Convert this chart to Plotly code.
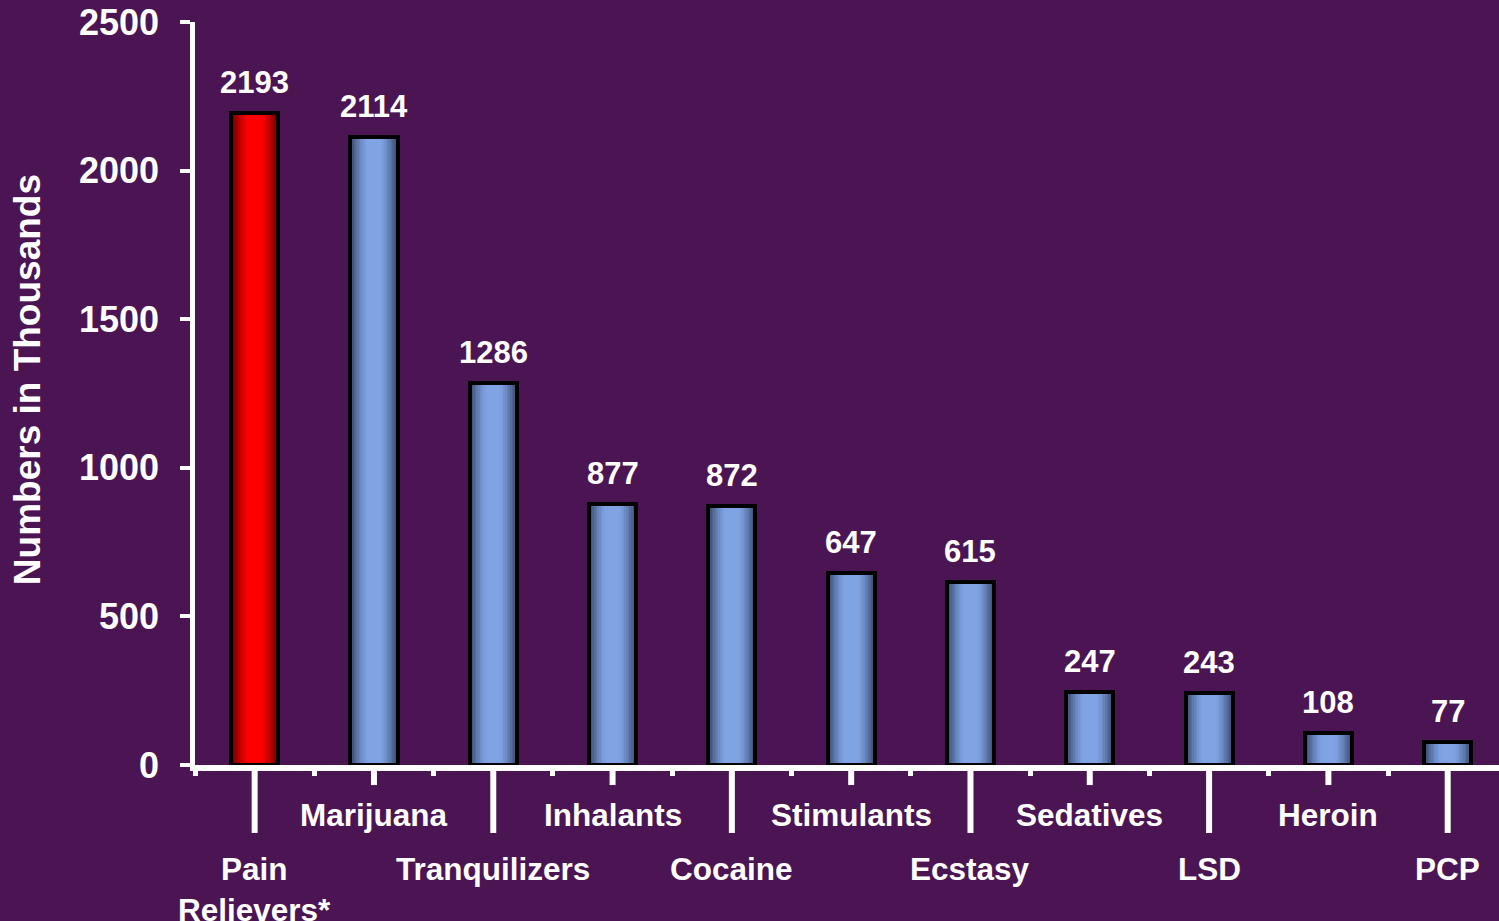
import plotly.graph_objects as go

# Lifetime initiates by substance (numbers in thousands)
categories = ["Pain<br>Relievers*", "Marijuana", "Tranquilizers", "Inhalants", "Cocaine",
              "Stimulants", "Ecstasy", "Sedatives", "LSD", "Heroin", "PCP"]
values = [2193, 2114, 1286, 877, 872, 647, 615, 247, 243, 108, 77]
y_ticks = [0, 500, 1000, 1500, 2000, 2500]

BG = "#4B1554"
FONT = "Liberation Sans, Arial, sans-serif"
BAR_W = 0.395
N_LAYERS = 14

x_pos = list(range(len(categories)))


def mix(c1, c2, t):
    return "rgb({},{},{})".format(*[round(a + (b - a) * t) for a, b in zip(c1, c2)])


blue_light, blue_dark = (128, 163, 228), (58, 75, 112)
red_light, red_dark = (255, 0, 0), (100, 0, 0)

fig = go.Figure()

# Shaded bars: stacked overlay layers, widest/darkest first, narrowest/lightest last
for k in range(N_LAYERS):
    frac = 1 - k / N_LAYERS
    t = max(0.0, min(1.0, (frac - 0.3) / 0.7)) ** 1.4
    colors = [mix(red_light, red_dark, t) if i == 0 else mix(blue_light, blue_dark, t)
              for i in x_pos]
    fig.add_trace(go.Bar(x=x_pos, y=values, width=BAR_W * frac,
                         marker=dict(color=colors, line=dict(width=0)),
                         hoverinfo="skip", showlegend=False))

# Black outline
fig.add_trace(go.Bar(x=x_pos, y=values, width=BAR_W,
                     marker=dict(color="rgba(0,0,0,0)", line=dict(color="black", width=4)),
                     showlegend=False, hovertemplate="%{y}<extra></extra>"))

# Value labels
for i, v in enumerate(values):
    fig.add_annotation(x=i, y=v, text=str(v), showarrow=False, yanchor="bottom", yshift=11,
                       font=dict(family=FONT, size=31, color="white", weight="bold"))

# Category labels in two staggered rows with leader lines
for i, name in enumerate(categories):
    upper = i % 2 == 1
    fig.add_annotation(x=i, xref="x", yref="paper", y=-0.041 if upper else -0.113,
                       text=name, showarrow=False, yanchor="top",
                       font=dict(family=FONT, size=31.5, color="white", weight="bold"))
    fig.add_shape(type="line", xref="x", yref="paper", x0=i, x1=i, y0=0,
                  y1=-0.027 if upper else -0.0915,
                  line=dict(color="white", width=6), layer="above")

# Y axis title
fig.add_annotation(xref="paper", yref="paper", x=-0.1288, y=0.518, text="Numbers in Thousands",
                   textangle=-90, showarrow=False, xanchor="center", yanchor="middle",
                   font=dict(family=FONT, size=37, color="white", weight="bold"))

fig.update_layout(
    width=1499, height=921,
    margin=dict(l=195, r=0, t=22, b=156),
    paper_bgcolor=BG, plot_bgcolor=BG,
    barmode="overlay", bargap=0,
    showlegend=False,
    xaxis=dict(range=[-0.5, 10.43], tickmode="array",
               tickvals=[i - 0.5 for i in x_pos] + [len(x_pos) - 0.5],
               showticklabels=False, ticks="outside", ticklen=5, tickwidth=5,
               tickcolor="white", showline=True, linecolor="white", linewidth=5.5,
               showgrid=False, zeroline=False, fixedrange=True),
    yaxis=dict(range=[0, 2500], tickmode="array", tickvals=y_ticks,
               ticks="outside", ticklen=10, tickwidth=4, tickcolor="white",
               showline=True, linecolor="white", linewidth=4.5, ticklabelstandoff=14,
               tickfont=dict(family=FONT, size=36, color="white", weight="bold"),
               showgrid=False, zeroline=False, fixedrange=True),
)

fig.write_html("out.html")
